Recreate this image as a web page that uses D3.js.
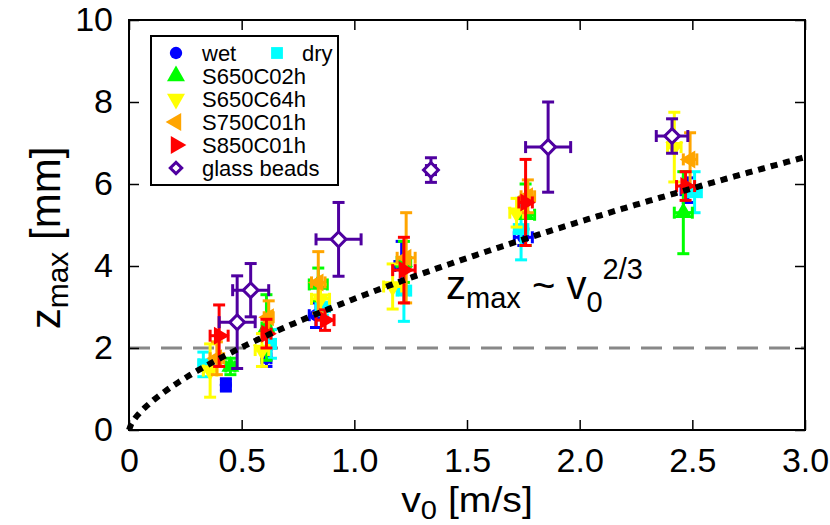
<!DOCTYPE html>
<html>
<head>
<meta charset="utf-8">
<script src="https://cdn.jsdelivr.net/npm/d3@7"></script>
<style>
  body { margin: 0; background: #fff; }
  text { font-family: "Liberation Sans", Arial, sans-serif; fill: #000; }
</style>
</head>
<body>
<svg id="chart" width="830" height="525"></svg>
<script>
// tick labels
const xTicks = [0, 0.5, 1.0, 1.5, 2.0, 2.5, 3.0];
const xTickLabels = ['0', '0.5', '1.0', '1.5', '2.0', '2.5', '3.0'];
const yTicks = [0, 2, 4, 6, 8, 10];

// series: v0 [m/s], z_max [mm], and their errors
const wetV   = [0.43, 0.61, 0.83, 1.21, 1.75, 2.48];
const wetZ   = [1.10, 1.75, 2.80, 4.00, 4.70, 5.85];
const wetVe  = [0.02, 0.02, 0.03, 0.03, 0.04, 0.03];
const wetZe  = [0.15, 0.20, 0.30, 0.60, 0.20, 0.30];

const dryV   = [0.33, 0.63, 0.86, 1.22, 1.74, 2.51];
const dryZ   = [1.60, 2.10, 3.00, 3.40, 4.90, 5.80];
const dryVe  = [0.02, 0.02, 0.03, 0.03, 0.03, 0.03];
const dryZe  = [0.30, 0.35, 0.20, 0.75, 0.75, 0.50];

const s650c02V  = [0.45, 0.61, 0.84, 1.22, 1.76, 2.46];
const s650c02Z  = [1.55, 2.50, 3.55, 4.10, 5.25, 5.30];
const s650c02Ve = [0.02, 0.02, 0.04, 0.03, 0.04, 0.04];
const s650c02Ze = [0.20, 0.80, 0.40, 0.50, 0.75, 1.00];

const s650c64V  = [0.36, 0.59, 0.85, 1.17, 1.72, 2.42];
const s650c64Z  = [1.45, 1.95, 3.20, 3.50, 5.30, 6.90];
const s650c64Ve = [0.03, 0.03, 0.04, 0.04, 0.03, 0.03];
const s650c64Ze = [0.65, 0.40, 0.35, 0.55, 0.35, 0.85];

const s750c01V  = [0.39, 0.62, 0.84, 1.23, 1.77, 2.49];
const s750c01Z  = [1.75, 2.75, 3.60, 4.20, 5.70, 6.60];
const s750c01Ve = [0.03, 0.02, 0.03, 0.04, 0.03, 0.03];
const s750c01Ze = [0.40, 0.40, 0.75, 1.10, 0.40, 0.65];

const s850c01V  = [0.40, 0.61, 0.87, 1.22, 1.76, 2.47];
const s850c01Z  = [2.30, 2.35, 2.68, 3.90, 5.55, 5.95];
const s850c01Ve = [0.04, 0.02, 0.04, 0.05, 0.03, 0.04];
const s850c01Ze = [0.75, 0.35, 0.25, 0.80, 1.05, 0.35];

const glassV  = [0.48, 0.54, 0.93, 1.34, 1.86, 2.41];
const glassZ  = [2.63, 3.41, 4.65, 6.34, 6.90, 7.17];
const glassVe = [0.08, 0.08, 0.10, 0.02, 0.10, 0.07];
const glassZe = [1.13, 0.65, 0.90, 0.30, 1.10, 0.42];

const fitCoef = 3.2;   // z_max ~ v0^(2/3)
const threshold = 2;

const series = [
  { name: 'wet',         color: '#0000ff', shape: 'circle', v: wetV, z: wetZ, ve: wetVe, ze: wetZe },
  { name: 'dry',         color: '#00ffff', shape: 'square', v: dryV, z: dryZ, ve: dryVe, ze: dryZe },
  { name: 'S650C02h',    color: '#00ff00', shape: 'up',     v: s650c02V, z: s650c02Z, ve: s650c02Ve, ze: s650c02Ze },
  { name: 'S650C64h',    color: '#ffff00', shape: 'down',   v: s650c64V, z: s650c64Z, ve: s650c64Ve, ze: s650c64Ze },
  { name: 'S750C01h',    color: '#ffa500', shape: 'left',   v: s750c01V, z: s750c01Z, ve: s750c01Ve, ze: s750c01Ze },
  { name: 'S850C01h',    color: '#ff0000', shape: 'right',  v: s850c01V, z: s850c01Z, ve: s850c01Ve, ze: s850c01Ze },
  { name: 'glass beads', color: '#4f00a0', shape: 'diamond', v: glassV, z: glassZ, ve: glassVe, ze: glassZe }
];

const svg = d3.select('#chart');
const width = 830, height = 525;
const margin = { top: 20, right: 25, bottom: 95, left: 129 };

const x = d3.scaleLinear().domain([0, 3]).range([margin.left, width - margin.right]);
const y = d3.scaleLinear().domain([0, 10]).range([height - margin.bottom, margin.top]);

// marker path per shape
const symbolPath = (shape, scale = 1) => {
  if (shape === 'circle') return d3.symbol(d3.symbolCircle, 120 * scale)();
  if (shape === 'square') return d3.symbol(d3.symbolSquare, 140 * scale)();
  if (shape === 'diamond') return d3.symbol(d3.symbolSquare, 110 * scale)();
  return d3.symbol(d3.symbolTriangle, 140 * scale)();
};
const rotation = { circle: 0, square: 0, up: 0, down: 180, left: -90, right: 90, diamond: 45 };

const plot = svg.append('g');

// dashed threshold line
plot.append('line')
  .attr('x1', x(0)).attr('x2', x(3))
  .attr('y1', y(threshold)).attr('y2', y(threshold))
  .attr('stroke', '#888').attr('stroke-width', 3)
  .attr('stroke-dasharray', '21,11');

// data with error bars
const capHalf = 6;
series.forEach(s => {
  const pts = s.v.map((v, i) => ({ v, z: s.z[i], ve: s.ve[i], ze: s.ze[i] }));
  const g = plot.append('g');
  const eb = g.selectAll('g.eb').data(pts).enter().append('g')
    .attr('stroke', s.color).attr('stroke-width', 3).attr('fill', 'none');
  // vertical bar
  eb.append('line')
    .attr('x1', d => x(d.v)).attr('x2', d => x(d.v))
    .attr('y1', d => y(d.z - d.ze)).attr('y2', d => y(d.z + d.ze));
  eb.append('line')
    .attr('x1', d => x(d.v) - capHalf).attr('x2', d => x(d.v) + capHalf)
    .attr('y1', d => y(d.z + d.ze)).attr('y2', d => y(d.z + d.ze));
  eb.append('line')
    .attr('x1', d => x(d.v) - capHalf).attr('x2', d => x(d.v) + capHalf)
    .attr('y1', d => y(d.z - d.ze)).attr('y2', d => y(d.z - d.ze));
  // horizontal bar
  eb.append('line')
    .attr('x1', d => x(d.v - d.ve)).attr('x2', d => x(d.v + d.ve))
    .attr('y1', d => y(d.z)).attr('y2', d => y(d.z));
  eb.append('line')
    .attr('x1', d => x(d.v - d.ve)).attr('x2', d => x(d.v - d.ve))
    .attr('y1', d => y(d.z) - capHalf).attr('y2', d => y(d.z) + capHalf);
  eb.append('line')
    .attr('x1', d => x(d.v + d.ve)).attr('x2', d => x(d.v + d.ve))
    .attr('y1', d => y(d.z) - capHalf).attr('y2', d => y(d.z) + capHalf);

  const open = s.shape === 'diamond';
  g.selectAll('path.mk').data(pts).enter().append('path')
    .attr('d', symbolPath(s.shape))
    .attr('transform', d => `translate(${x(d.v)},${y(d.z)}) rotate(${rotation[s.shape]})`)
    .attr('fill', open ? '#fff' : s.color)
    .attr('stroke', open ? s.color : 'none')
    .attr('stroke-width', 3);
});

// dotted fit curve
const fitV = d3.range(0, 3.0001, 0.01);
plot.append('path')
  .datum(fitV)
  .attr('fill', 'none')
  .attr('stroke', '#000')
  .attr('stroke-width', 6)
  .attr('stroke-dasharray', '7,6')
  .attr('d', d3.line().x(d => x(d)).y(d => y(fitCoef * Math.pow(d, 2 / 3))));

// frame and axes with inward ticks on all sides
const tickLen = 10;
const tickFont = 34;
svg.append('g').attr('transform', `translate(0,${y(0)})`)
  .call(d3.axisBottom(x).tickValues(xTicks).tickSize(-tickLen).tickFormat((d, i) => xTickLabels[i]).tickPadding(18))
  .call(g => g.select('.domain').remove())
  .call(g => g.selectAll('line').attr('stroke-width', 1.5))
  .call(g => g.selectAll('text').attr('font-size', tickFont).attr('font-family', '"Liberation Sans", Arial, sans-serif'));
svg.append('g').attr('transform', `translate(0,${y(10)})`)
  .call(d3.axisTop(x).tickValues(xTicks).tickSize(-tickLen).tickFormat(''))
  .call(g => g.select('.domain').remove())
  .call(g => g.selectAll('line').attr('stroke-width', 1.5));
svg.append('g').attr('transform', `translate(${x(0)},0)`)
  .call(d3.axisLeft(y).tickValues(yTicks).tickSize(-tickLen).tickFormat(d3.format('d')).tickPadding(16))
  .call(g => g.select('.domain').remove())
  .call(g => g.selectAll('line').attr('stroke-width', 1.5))
  .call(g => g.selectAll('text').attr('font-size', tickFont).attr('font-family', '"Liberation Sans", Arial, sans-serif'));
svg.append('g').attr('transform', `translate(${x(3)},0)`)
  .call(d3.axisRight(y).tickValues(yTicks).tickSize(-tickLen).tickFormat(''))
  .call(g => g.select('.domain').remove())
  .call(g => g.selectAll('line').attr('stroke-width', 1.5));

svg.append('rect')
  .attr('x', x(0)).attr('y', y(10))
  .attr('width', x(3) - x(0)).attr('height', y(0) - y(10))
  .attr('fill', 'none').attr('stroke', '#000').attr('stroke-width', 2);

// axis titles
svg.append('text')
  .attr('transform', 'translate(467,512) scale(1.12,1)')
  .attr('text-anchor', 'middle').attr('font-size', 35)
  .call(t => {
    t.append('tspan').text('v');
    t.append('tspan').attr('font-size', 26).attr('dy', 7).text('0');
    t.append('tspan').attr('dy', -7).text(' [m/s]');
  });

svg.append('text')
  .attr('transform', 'translate(60,238) rotate(-90)')
  .attr('text-anchor', 'middle').attr('font-size', 42)
  .call(t => {
    t.append('tspan').text('z');
    t.append('tspan').attr('font-size', 30).attr('dy', 8).text('max');
    t.append('tspan').attr('dy', -8).text(' [mm]');
  });

// annotation
svg.append('text')
  .attr('x', 446).attr('y', 299).attr('font-size', 40)
  .call(t => {
    t.append('tspan').text('z');
    t.append('tspan').attr('font-size', 29).attr('dy', 9).text('max');
    t.append('tspan').attr('dy', -9).text(' ~ v');
    t.append('tspan').attr('font-size', 29).attr('dy', 13).text('0');
    t.append('tspan').attr('font-size', 29).attr('dy', -33).text('2/3');
  });

// legend
const lg = svg.append('g');
lg.append('rect')
  .attr('x', 151).attr('y', 36).attr('width', 187).attr('height', 149)
  .attr('fill', '#fff').attr('stroke', '#000').attr('stroke-width', 2);
const legendPos = [
  { mx: 176, tx: 202, y: 53 },
  { mx: 277, tx: 302, y: 53 },
  { mx: 176, tx: 202, y: 76 },
  { mx: 176, tx: 202, y: 99 },
  { mx: 176, tx: 202, y: 122 },
  { mx: 176, tx: 202, y: 145 },
  { mx: 176, tx: 202, y: 168 }
];
series.forEach((s, i) => {
  const p = legendPos[i];
  const open = s.shape === 'diamond';
  lg.append('path')
    .attr('d', symbolPath(s.shape, open ? 0.6 : 1))
    .attr('transform', `translate(${p.mx},${p.y}) rotate(${rotation[s.shape]})`)
    .attr('fill', open ? '#fff' : s.color)
    .attr('stroke', open ? s.color : 'none')
    .attr('stroke-width', 3);
  lg.append('text')
    .attr('x', p.tx).attr('y', p.y + 8)
    .attr('font-size', 22)
    .text(s.name);
});
</script>
</body>
</html>
